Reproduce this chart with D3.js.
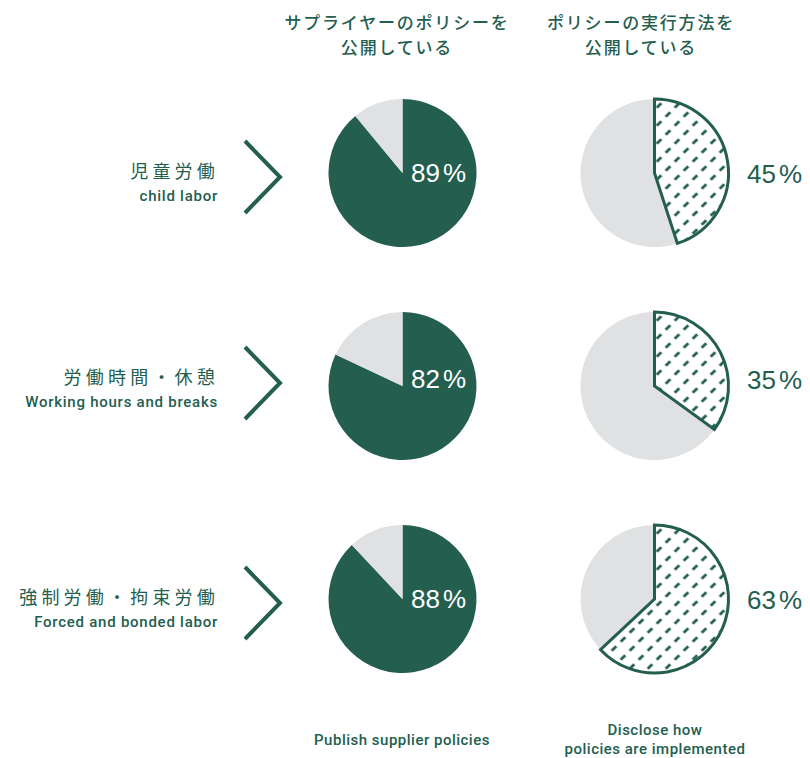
<!DOCTYPE html>
<html>
<head>
<meta charset="utf-8">
<script src="https://cdn.jsdelivr.net/npm/d3@7"></script>
<style>
  html, body { margin: 0; padding: 0; background: #ffffff; }
  svg { display: block; }
</style>
</head>
<body>
<svg id="chart" width="810" height="758"></svg>
<script>
// Topics (Japanese + English), one row each
const topicsJa = ["児童労働", "労働時間・休憩", "強制労働・拘束労働"];
const topicsEn = ["child labor", "Working hours and breaks", "Forced and bonded labor"];

// Share of suppliers (%) for each topic
const publishPolicy = [89, 82, 88];     // publish supplier policies
const discloseMethod = [45, 35, 63];    // disclose how policies are implemented

// Column headings
const headerPublish = ["サプライヤーのポリシーを", "公開している"];
const headerDisclose = ["ポリシーの実行方法を", "公開している"];
const footerPublish = ["Publish supplier policies"];
const footerDisclose = ["Disclose how", "policies are implemented"];

const GREEN = "#235e4f";
const GREY = "#e0e1e3";
const JP = "'Noto Sans CJK JP', 'Noto Sans', sans-serif";
const EN = "Roboto, 'Liberation Sans', Arial, sans-serif";
const NUM = "'Liberation Sans', Arial, sans-serif";

const svg = d3.select("#chart");

// Layout
const rowScale = d3.scalePoint().domain(d3.range(topicsJa.length)).range([173, 599]);
const rowTextShift = [0, -7, 0];   // vertical nudge for the labels of each row
const colPublishX = 402.5, colDiscloseX = 654.5;
const R = 74;

// Hatch pattern for the "disclose" slices
const defs = svg.append("defs");
const T = 18;
const pat = defs.append("pattern")
  .attr("id", "hatch")
  .attr("patternUnits", "userSpaceOnUse")
  .attr("width", T).attr("height", T);
pat.append("rect").attr("width", T).attr("height", T).attr("fill", "#fff");
[[4.5, 4.5], [13.5, 13.5]].forEach(([cx, cy]) => {
  pat.append("line")
    .attr("x1", cx - 2.3).attr("y1", cy + 2.3).attr("x2", cx + 2.3).attr("y2", cy - 2.3)
    .attr("stroke", GREEN).attr("stroke-width", 2.7);
});

const pie = d3.pie().sort(null).value(d => d);
const arc = d3.arc().innerRadius(0).outerRadius(R);

// Percentage label: digits, then a slightly detached "%"
function pctLabel(sel, value, x, y, color) {
  const t = sel.append("text")
    .attr("x", x).attr("y", y)
    .attr("font-family", NUM).attr("font-size", 26)
    .attr("fill", color);
  t.append("tspan").text(value);
  t.append("tspan").attr("dx", 3).text("%");
}

// Headings
function header(lines, cx) {
  const t = svg.append("text")
    .attr("text-anchor", "middle")
    .attr("font-family", JP).attr("font-size", 17).attr("font-weight", 500)
    .attr("letter-spacing", "1.8px")
    .attr("fill", GREEN);
  lines.forEach((s, i) => t.append("tspan").attr("x", cx).attr("y", 29 + i * 25).text(s));
}
header(headerPublish, 397);
header(headerDisclose, 641);

// Rows
topicsJa.forEach((ja, i) => {
  const cy = rowScale(i);
  const ty = cy + rowTextShift[i];
  const g = svg.append("g");

  // Topic labels
  g.append("text")
    .attr("x", 219).attr("y", ty + 5)
    .attr("text-anchor", "end")
    .attr("font-family", JP).attr("font-size", 18)
    .attr("letter-spacing", "4.2px")
    .attr("fill", GREEN).text(ja);
  g.append("text")
    .attr("x", 218).attr("y", ty + 28)
    .attr("text-anchor", "end")
    .attr("font-family", EN).attr("font-size", 15).attr("font-weight", 500)
    .attr("letter-spacing", "0.75px")
    .attr("fill", GREEN).text(topicsEn[i]);

  // Chevron
  const cvY = ty + 4;
  g.append("path")
    .attr("d", d3.line()([[245, cvY - 36], [280, cvY], [245, cvY + 36]]))
    .attr("fill", "none").attr("stroke", GREEN).attr("stroke-width", 4);

  // Publish pie (solid)
  const p1 = g.append("g").attr("transform", `translate(${colPublishX},${cy})`);
  p1.selectAll("path")
    .data(pie([publishPolicy[i], 100 - publishPolicy[i]]))
    .join("path")
    .attr("d", arc)
    .attr("fill", (d, j) => j === 0 ? GREEN : GREY);
  pctLabel(g, publishPolicy[i], colPublishX + 8.5, ty + 9, "#fff");

  // Disclose pie (hatched slice over grey disc)
  const p2 = g.append("g").attr("transform", `translate(${colDiscloseX},${cy})`);
  const arcs2 = pie([discloseMethod[i], 100 - discloseMethod[i]]);
  p2.append("path").attr("d", arc(arcs2[1])).attr("fill", GREY);
  p2.append("path").attr("d", arc(arcs2[0]))
    .attr("fill", "url(#hatch)")
    .attr("stroke", GREEN).attr("stroke-width", 3)
    .attr("stroke-linejoin", "miter");
  pctLabel(g, discloseMethod[i], 747, ty + 10, GREEN);
});

// Footers
function footer(lines, cx, y0) {
  const t = svg.append("text")
    .attr("text-anchor", "middle")
    .attr("font-family", EN).attr("font-size", 15).attr("font-weight", 500)
    .attr("letter-spacing", "0.5px")
    .attr("fill", GREEN);
  lines.forEach((s, i) => t.append("tspan").attr("x", cx).attr("y", y0 + i * 19).text(s));
}
footer(footerPublish, 402, 745);
footer(footerDisclose, 655, 735);
</script>
</body>
</html>
